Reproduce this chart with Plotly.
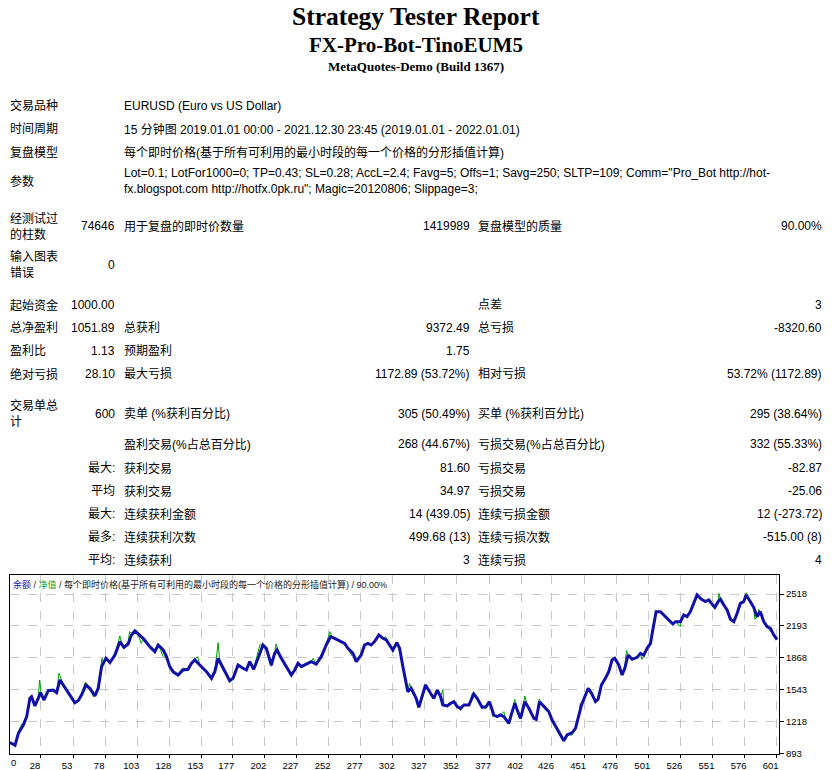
import plotly.graph_objects as go

# The page body margin is removed after plotting (see write_html below),
# so figure pixels map 1:1 onto the 836x770 page.
OFF = 0
FW, FH = 836, 770

# ---------------- data ----------------
report_title = "Strategy Tester Report"
expert_name = "FX-Pro-Bot-TinoEUM5"
server_name = "MetaQuotes-Demo (Build 1367)"

info_labels = ["交易品种", "时间周期", "复盘模型", "参数"]
info_values = [
    "EURUSD (Euro vs US Dollar)",
    "15 分钟图 2019.01.01 00:00 - 2021.12.30 23:45 (2019.01.01 - 2022.01.01)",
    "每个即时价格(基于所有可利用的最小时段的每一个价格的分形插值计算)",
    'Lot=0.1; LotFor1000=0; TP=0.43; SL=0.28; AccL=2.4; Favg=5; Offs=1; Savg=250; SLTP=109; Comm="Pro_Bot http://hot-<br>'
    'fx.blogspot.com http://hotfx.0pk.ru"; Magic=20120806; Slippage=3;',
]

bars_labels = ["经测试过<br>的柱数", "用于复盘的即时价数量", "复盘模型的质量"]
bars_values = ["74646", "1419989", "90.00%"]
errors_label = "输入图表<br>错误"
errors_value = "0"

stat_labels_1 = ["起始资金", "总净盈利", "盈利比", "绝对亏损"]
stat_values_1 = ["1000.00", "1051.89", "1.13", "28.10"]
stat_labels_2 = ["", "总获利", "预期盈利", "最大亏损"]
stat_values_2 = ["", "9372.49", "1.75", "1172.89 (53.72%)"]
stat_labels_3 = ["点差", "总亏损", "", "相对亏损"]
stat_values_3 = ["3", "-8320.60", "", "53.72% (1172.89)"]

trades_label = "交易单总<br>计"
trades_total = "600"
trade_prefix = ["", "", "最大:", "平均", "最大:", "最多:", "平均:"]
trade_labels_2 = ["卖单 (%获利百分比)", "盈利交易(%占总百分比)", "获利交易", "获利交易",
                  "连续获利金额", "连续获利次数", "连续获利"]
trade_values_2 = ["305 (50.49%)", "268 (44.67%)", "81.60", "34.97",
                  "14 (439.05)", "499.68 (13)", "3"]
trade_labels_3 = ["买单 (%获利百分比)", "亏损交易(%占总百分比)", "亏损交易", "亏损交易",
                  "连续亏损金额", "连续亏损次数", "连续亏损"]
trade_values_3 = ["295 (38.64%)", "332 (55.33%)", "-82.87", "-25.06",
                  "12 (-273.72)", "-515.00 (8)", "4"]

chart_caption_parts = ["余额", "净值", "每个即时价格(基于所有可利用的最小时段的每一个价格的分形插值计算)", "90.00%"]

# balance curve (trade number, balance)
balance_x = [3.9, 7.8, 10.4, 14.3, 16.9, 19.4, 20.7, 23.3, 25.9, 27.7, 30.3, 33.7, 37.6, 40.2, 42.8, 45.4,
             49.3, 54.4, 57.0, 59.6, 63.0, 66.1, 70.0, 72.6, 75.2, 78.6, 81.7, 85.6, 89.5, 92.6, 95.9,
             98.5, 101.1, 103.7, 107.6, 112.8, 116.7, 119.3, 123.2, 125.8, 128.3, 130.9, 134.8, 138.7,
             142.6, 145.2, 147.8, 151.7, 156.9, 160.8, 163.4, 165.9, 169.8, 175.0, 177.6, 181.5, 185.4,
             188.0, 190.6, 193.7, 197.1, 200.9, 203.5, 207.4, 210.0, 211.8, 215.2, 219.1, 223.0, 225.6,
             228.2, 230.8, 234.7, 238.5, 242.4, 246.3, 250.2, 253.6, 256.7, 260.6, 264.5, 267.1, 271.0,
             273.6, 277.4, 280.0, 282.6, 285.2, 287.8, 291.2, 294.3, 296.9, 299.5, 302.1, 305.2, 307.3,
             309.9, 312.4, 313.7, 316.3, 320.2, 322.3, 324.9, 327.5, 331.4, 334.0, 336.6, 339.2, 341.0,
             344.4, 347.0, 349.6, 352.2, 354.8, 357.4, 361.3, 365.1, 367.7, 371.6, 374.7, 377.3, 380.7,
             383.3, 385.9, 388.5, 392.4, 395.0, 397.1, 398.9, 401.5, 404.9, 408.0, 411.9, 413.7, 416.3,
             419.6, 423.5, 426.1, 430.0, 432.6, 435.2, 437.8, 441.7, 444.3, 446.9, 449.0, 452.1, 454.2,
             456.8, 459.9, 461.9, 464.5, 467.6, 470.2, 472.8, 474.9, 478.0, 480.6, 482.7, 485.3, 488.4,
             492.3, 494.9, 497.5, 500.1, 502.7, 504.5, 507.1, 510.5, 513.1, 516.4, 520.1, 522.1, 526.0,
             528.6, 531.2, 533.8, 536.4, 539.0, 542.4, 545.5, 548.1, 552.8, 555.4, 557.2, 559.8, 562.4,
             565.0, 567.6, 570.2, 572.7, 575.3, 577.2, 580.5, 583.1, 585.7, 588.3, 590.9, 593.5, 596.1,
             598.7, 601.3]
balance_y = [1002, 975, 1097, 1182, 1267, 1454, 1471, 1376, 1454, 1512, 1437, 1532, 1539, 1512, 1641, 1590,
             1505, 1410, 1430, 1488, 1590, 1556, 1478, 1556, 1777, 1862, 1818, 1896, 2032, 1974, 2008,
             2100, 2141, 2110, 2066, 1981, 1930, 1998, 1947, 1879, 1777, 1726, 1692, 1743,
             1750, 1811, 1845, 1794, 1726, 1658, 1726, 1862, 1760, 1634, 1658, 1794, 1760,
             1743, 1828, 1750, 1862, 1998, 1964, 1794, 1913, 1947, 1862, 1777, 1692, 1743,
             1811, 1777, 1801, 1828, 1804, 1879, 1998, 2083, 2066, 2042, 2015, 1964, 1913,
             1828, 1896, 1998, 2015, 1998, 2032, 2100, 2066, 2049, 1998, 1947, 2022, 1964,
             1777, 1590, 1522, 1556, 1454, 1362, 1488, 1590, 1505, 1454, 1539, 1471, 1386,
             1376, 1403, 1420, 1369, 1352, 1386, 1386, 1498, 1454, 1362, 1369, 1420, 1284,
             1267, 1284, 1267, 1199, 1318, 1403, 1335, 1250, 1420, 1352, 1250, 1240, 1420,
             1369, 1318, 1233, 1138, 1080, 1022, 1080, 1104, 1148, 1267, 1386, 1488, 1556,
             1505, 1420, 1444, 1590, 1658, 1726, 1845, 1862, 1794, 1692, 1760, 1896, 1852,
             1872, 1913, 1896, 1964, 2015, 2151, 2338, 2338, 2304, 2253, 2212, 2236, 2236,
             2304, 2287, 2338, 2423, 2508, 2464, 2440, 2457, 2382, 2440, 2464, 2406, 2355,
             2260, 2236, 2321, 2423, 2440, 2508, 2440, 2382, 2287, 2338, 2236, 2185, 2168,
             2100, 2052]

# equity curve (trade number, equity)
equity_x = [3.9, 7.8, 10.4, 13.0, 15.5, 17.0, 19.4, 20.7, 23.3, 25.9, 27.0, 28.0, 30.3, 33.7, 37.6, 40.2,
            42.0, 43.5, 45.4, 49.3, 54.4, 57.0, 59.6, 62.5, 64.0, 66.1, 69.0, 72.6, 75.5, 77.0, 78.6,
            81.7, 85.6, 89.5, 91.0, 92.6, 96.0, 97.0, 99.0, 101.1, 103.7, 106.0, 108.0, 112.8, 116.7,
            119.3, 121.0, 123.2, 125.8, 128.3, 131.0, 134.8, 138.0, 140.0, 142.6, 145.2, 150.0, 151.7,
            156.9, 160.8, 163.4, 166.0, 167.0, 168.0, 169.8, 175.0, 177.6, 181.5, 185.4, 188.0, 190.6,
            193.7, 197.1, 198.5, 200.9, 203.5, 207.4, 210.0, 211.0, 212.5, 215.2, 219.1, 223.0, 225.6,
            228.2, 230.8, 234.7, 238.5, 240.0, 242.4, 246.3, 249.0, 250.2, 253.0, 254.5, 256.7, 260.6,
            264.5, 267.1, 270.0, 271.0, 273.6, 277.0, 280.0, 282.6, 285.2, 287.8, 291.2, 294.3, 296.5,
            298.0, 299.5, 302.1, 305.2, 307.3, 309.9, 312.4, 313.7, 315.0, 316.3, 320.2, 322.3, 324.9,
            327.5, 331.4, 334.0, 336.6, 339.2, 341.0, 341.8, 344.4, 347.0, 349.6, 352.2, 354.8, 357.4,
            361.3, 364.0, 365.1, 367.7, 371.6, 374.7, 377.3, 380.0, 380.7, 383.3, 385.9, 388.5, 389.5,
            392.4, 395.0, 397.0, 398.9, 401.5, 404.9, 406.0, 408.0, 411.9, 413.7, 416.0, 419.6, 423.5,
            426.1, 430.0, 432.6, 435.2, 437.8, 441.7, 442.5, 444.3, 446.9, 448.0, 449.0, 452.1, 454.2,
            456.8, 459.9, 461.9, 464.5, 467.6, 470.2, 472.8, 474.9, 478.0, 480.6, 482.7, 484.0, 485.3,
            488.4, 492.3, 494.9, 496.0, 497.5, 500.1, 502.7, 504.5, 507.1, 510.5, 513.1, 516.4, 520.1,
            522.1, 526.0, 526.5, 528.6, 531.2, 533.8, 536.4, 539.0, 542.4, 545.5, 548.1, 552.8, 555.4,
            556.0, 557.2, 559.8, 562.4, 564.0, 565.0, 567.6, 570.2, 572.7, 575.3, 577.2, 580.5, 583.1,
            584.0, 585.7, 587.0, 588.3, 590.9, 593.5, 596.1, 598.7, 601.3]
equity_y = [1005, 975, 1110, 1190, 1200, 1290, 1470, 1480, 1390, 1470, 1641, 1520, 1440, 1540, 1545, 1515,
            1709, 1660, 1595, 1505, 1410, 1440, 1500, 1614, 1600, 1556, 1470, 1570, 1862, 1800, 1870,
            1825, 1900, 2090, 2000, 1980, 2030, 2134, 2115, 2150, 2110, 2015, 2060, 1975, 1925,
            2008, 1960, 1880, 1860, 1775, 1709, 1695, 1760, 1760, 1750, 1820, 1879, 1800,
            1730, 1665, 1730, 2022, 1870, 1790, 1765, 1630, 1660, 1800, 1762, 1750, 1835,
            1755, 1930, 1998, 2000, 1964, 1780, 1920, 2008, 1950, 1860, 1775, 1690, 1745,
            1815, 1780, 1805, 1828, 1862, 1804, 1880, 1960, 2010, 2134, 2090, 2066, 2040,
            2015, 1960, 1890, 1913, 1828, 1880, 1998, 2020, 1998, 2032, 2100, 2066, 2083,
            2045, 1998, 1940, 2022, 1964, 1777, 1590, 1522, 1607, 1560, 1454, 1362, 1488,
            1595, 1505, 1454, 1539, 1471, 1539, 1390, 1376, 1403, 1420, 1369, 1330, 1386,
            1386, 1505, 1498, 1454, 1362, 1350, 1420, 1267, 1284, 1267, 1284, 1318, 1267,
            1199, 1318, 1444, 1335, 1250, 1478, 1420, 1352, 1250, 1240, 1445, 1369, 1318,
            1233, 1138, 1080, 1022, 1080, 1080, 1104, 1148, 1267, 1400, 1386, 1488, 1556,
            1505, 1420, 1444, 1600, 1658, 1735, 1860, 1870, 1800, 1692, 1780, 1940, 1900,
            1850, 1872, 1913, 1850, 1896, 1964, 2015, 2185, 2338, 2338, 2304, 2253, 2212,
            2236, 2185, 2236, 2304, 2287, 2338, 2423, 2508, 2464, 2440, 2457, 2382, 2440,
            2525, 2464, 2420, 2355, 2270, 2260, 2236, 2321, 2423, 2440, 2532, 2440, 2382,
            2260, 2287, 2362, 2338, 2236, 2185, 2140, 2100, 2066]

x_tick_vals = [28, 53, 78, 103, 128, 153, 177, 202, 227, 252, 277, 302, 327, 352, 377, 402,
               426, 451, 476, 501, 526, 551, 576, 601]
x_start_label = "0"
y_tick_vals = [893, 1218, 1543, 1868, 2193, 2518]

# ---------------- layout helpers ----------------
BODY_FONT = "Liberation Sans, Noto Sans CJK SC, sans-serif"
SERIF_FONT = "Liberation Serif, Times New Roman, serif"


def px(x):
    return (x - OFF) / FW


def py(y):
    return 1 - (y - OFF) / FH


annotations = []


def text(s, x, y, anchor="left", size=12, family=BODY_FONT, color="#000000", bold=False, yanchor="middle"):
    if bold:
        s = "<b>" + s + "</b>"
    annotations.append(dict(
        text=s, x=px(x), y=py(y), xref="paper", yref="paper",
        xanchor=anchor, yanchor=yanchor, showarrow=False,
        align=anchor if anchor != "center" else "center",
        font=dict(size=size, family=family, color=color), borderpad=0))


# header
text(report_title, 416, 17, "center", 25.5, SERIF_FONT, bold=True)
text(expert_name, 416, 45, "center", 21, SERIF_FONT, bold=True)
text(server_name, 416, 66, "center", 13, SERIF_FONT, bold=True)

# column positions
C1_L, C1_R, C2_L, C2_R, C3_L, C3_R = 9, 116, 123, 471, 477, 823

info_y = [106, 129, 152, 181]
for lab, val, yy in zip(info_labels, info_values, info_y):
    text(lab, C1_L, yy)
    text(val, C2_L, yy)

# bars row
text(bars_labels[0], C1_L, 226)
text(bars_values[0], C1_R, 226, "right")
text(bars_labels[1], C2_L, 226)
text(bars_values[1], C2_R, 226, "right")
text(bars_labels[2], C3_L, 226)
text(bars_values[2], C3_R, 226, "right")

text(errors_label, C1_L, 265)
text(errors_value, C1_R, 265, "right")

stats_y = [305, 328, 351, 374]
for i, yy in enumerate(stats_y):
    for s, x, a in [(stat_labels_1[i], C1_L, "left"), (stat_values_1[i], C1_R, "right"),
                    (stat_labels_2[i], C2_L, "left"), (stat_values_2[i], C2_R, "right"),
                    (stat_labels_3[i], C3_L, "left"), (stat_values_3[i], C3_R, "right")]:
        if s:
            text(s, x, yy, a)

trades_y = [414, 444, 468, 491, 514, 537, 560]
text(trades_label, C1_L, 414)
text(trades_total, C1_R, 414, "right")
for i, yy in enumerate(trades_y):
    if trade_prefix[i]:
        text(trade_prefix[i], C1_R, yy, "right")
    text(trade_labels_2[i], C2_L, yy)
    text(trade_values_2[i], C2_R, yy, "right")
    text(trade_labels_3[i], C3_L, yy)
    text(trade_values_3[i], C3_R, yy, "right")

# chart caption
caption = ('<span style="color:#2020b0">' + chart_caption_parts[0] + '</span> / '
           '<span style="color:#10a010">' + chart_caption_parts[1] + '</span> / '
           + chart_caption_parts[2] + ' / ' + chart_caption_parts[3])
text(caption, 12, 584, "left", 9, color="#202020")

# ---------------- chart ----------------
X_RANGE = [3.9, 602.8]
Y_RANGE = [886, 2712]

fig = go.Figure()
fig.add_trace(go.Scatter(x=equity_x, y=equity_y, mode="lines",
                         line=dict(color="#00a000", width=1), hoverinfo="skip", showlegend=False))
fig.add_trace(go.Scatter(x=balance_x, y=balance_y, mode="lines",
                         line=dict(color="#1010a8", width=3), hoverinfo="skip", showlegend=False))

# "0" label at the left edge
annotations.append(dict(text=x_start_label, x=X_RANGE[0], y=py(762), xref="x", yref="paper",
                        xanchor="left", yanchor="middle", showarrow=False,
                        font=dict(size=9.5, family=BODY_FONT, color="#000000"), borderpad=0))

fig.update_layout(
    width=FW, height=FH,
    margin=dict(l=0, r=0, t=0, b=0, autoexpand=False),
    paper_bgcolor="white", plot_bgcolor="white",
    showlegend=False,
    annotations=annotations,
    xaxis=dict(domain=[px(10), px(779)], range=X_RANGE, tickmode="array", tickvals=x_tick_vals,
               ticktext=[str(v) for v in x_tick_vals], automargin=False,
               showgrid=True, gridcolor="#c8c8c8", griddash="dash", gridwidth=1,
               showline=True, linecolor="#000000", linewidth=1, mirror=True,
               ticks="outside", ticklen=3, tickcolor="#000000", ticklabelshift=-6,
               tickfont=dict(size=9.5, family=BODY_FONT, color="#000000"), zeroline=False,
               anchor="y"),
    yaxis=dict(domain=[py(754), py(575)], range=Y_RANGE, side="right", tickmode="array",
               tickvals=y_tick_vals, ticktext=[str(v) for v in y_tick_vals], automargin=False,
               showgrid=True, gridcolor="#c8c8c8", griddash="dash", gridwidth=1,
               showline=True, linecolor="#000000", linewidth=1, mirror=True,
               ticks="outside", ticklen=4, tickcolor="#000000",
               tickfont=dict(size=9.5, family=BODY_FONT, color="#000000"), zeroline=False,
               anchor="x"),
)

fig.write_html("out.html",
               config={"displayModeBar": False, "staticPlot": True},
               post_script="document.body.style.margin='0';document.body.style.overflow='hidden';")
